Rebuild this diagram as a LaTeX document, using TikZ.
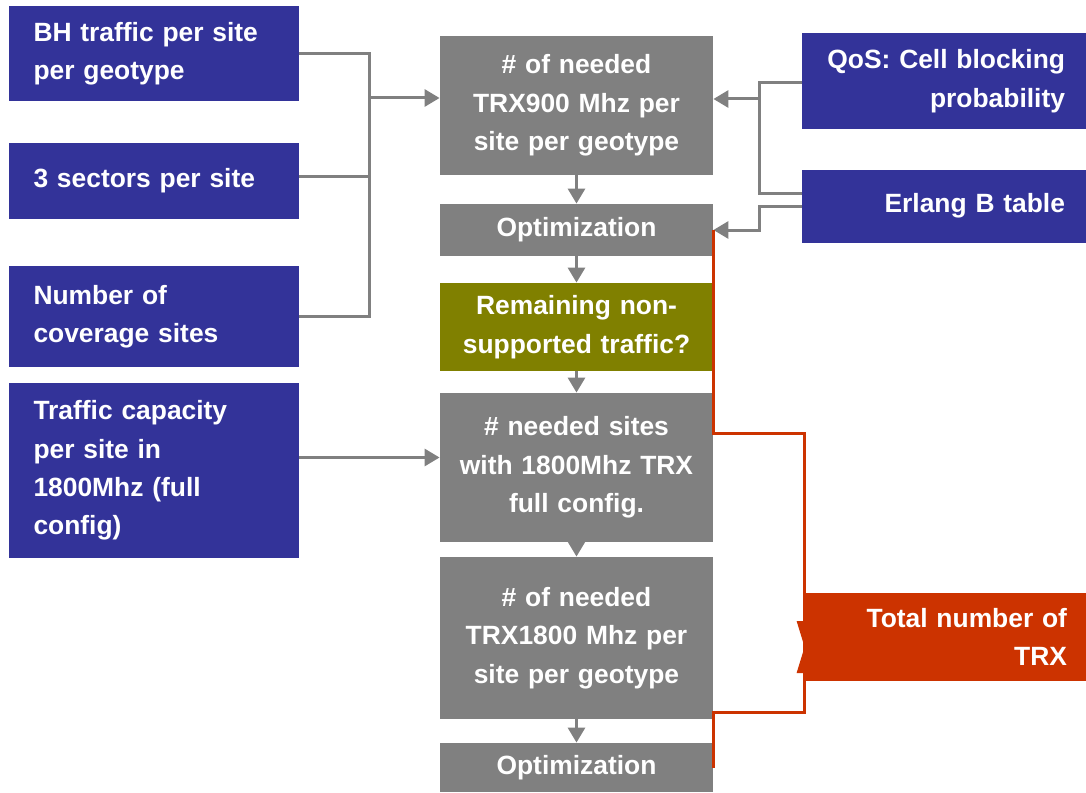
\documentclass[tikz,border=0pt]{standalone}
\usepackage{fontspec}
\setmainfont{Liberation Sans}
\usetikzlibrary{arrows.meta,calc}
\definecolor{boxblue}{RGB}{51,51,153}
\definecolor{boxgray}{RGB}{128,128,128}
\definecolor{boxolive}{RGB}{128,128,0}
\definecolor{boxred}{RGB}{204,51,0}

\begin{document}
\begin{tikzpicture}[x=0.5pt,y=-0.5pt]

\tikzset{myarrow/.style={-{Triangle[length=7.5pt,width=8.5pt]}, draw=boxgray, line width=1.5pt},
  myline/.style={draw=boxgray, line width=1.5pt},
  redline/.style={draw=boxred, line width=1.5pt},
  box/.style={fill=#1, text=white, inner ysep=0pt,
    font=\bfseries\fontsize{13.2}{19.2}\selectfont},
  inbox/.style={box=boxblue, text width=120pt, inner xsep=12.5pt, align=left, minimum height=#1},
  stepbox/.style={box=boxgray, text width=126.5pt, inner xsep=5pt, align=center, minimum height=#1},
  askbox/.style={box=boxolive, text width=126.5pt, inner xsep=5pt, align=center, minimum height=#1},
  rbox/.style={box=boxblue, text width=121pt, inner xsep=10.5pt, align=right, minimum height=#1},
  outbox/.style={box=boxred, text width=121.5pt, inner xsep=9.5pt, align=right, minimum height=44pt}}

    \useasboundingbox (0,0) rectangle (1086,792);

    % Left inputs
    \node[inbox=47.5pt] (bh) at (153.5,53.5) {BH traffic per site\\per geotype};
    \node[inbox=38pt] (sectors) at (153.5,181) {3 sectors per site};
    \node[inbox=50.5pt] (coverage) at (153.5,316.5) {Number of\\coverage sites};
    \node[inbox=87.5pt] (capacity) at (153.5,470.5) {Traffic capacity\\per site in\\1800Mhz (full\\config)};

    % Middle column
    \node[stepbox=69.5pt] (trxa) at (576.5,105.5) {\# of needed\\TRX900 Mhz per\\site per geotype};
    \node[stepbox=26pt] (optima) at (576.5,230) {Optimization};
    \node[askbox=44pt] (remain) at (576.5,327) {Remaining non-\\supported traffic?};
    \node[stepbox=74.5pt] (sites) at (576.5,467.5) {\# needed sites\\with 1800Mhz TRX\\full config.};
    \node[stepbox=81pt] (trxb) at (576.5,638) {\# of needed\\TRX1800 Mhz per\\site per geotype};
    \node[stepbox=24.5pt] (optimb) at (576.5,767.5) {Optimization};

    % Right inputs
    \node[rbox=48pt] (qos) at (944,81) {QoS: Cell blocking\\probability};
    \node[rbox=36.5pt] (erlang) at (944,206) {Erlang B table};

    % Left joins
    \coordinate (lj) at (369,98);
    \draw[myline] (bh.east) -| (lj);
    \draw[myline] (coverage.east) -| (lj);
    \draw[myline] ([yshift=2.5pt]sectors.east) -- ([yshift=2.5pt]sectors.east -| lj);
    \draw[myarrow] (lj) -- (lj -| trxa.west);
    \draw[myarrow] ([yshift=6.5pt]capacity.east) -- ([yshift=6.5pt]capacity.east -| sites.west);

    % Right joins
    \coordinate (rj) at (759,99);
    \coordinate (rb) at (759,193);
    \draw[myline] ([yshift=-1pt]qos.west) -| (rb) -- (rb -| erlang.west);
    \draw[myarrow] (rj) -- (rj -| trxa.east);
    \draw[myarrow] (erlang.west) -- ++(-42,0) |- (optima.east);

    % Steps
    \foreach \a/\b in {trxa/optima, optima/remain, remain/sites, sites/trxb, trxb/optimb}
      \draw[myarrow] (\a) -- (\b);

    % Bracket to total
    \coordinate (rt) at (804,433);
    \coordinate (rbt) at (804,712);
    \draw[redline] (optima.east) |- (rt) -- (rbt) -| (optimb.east);

    \node[outbox] (total) at (945.5,637) {Total number of\\TRX};
    \fill[boxred] ($(total.west)+(0,-16)$) -- ++(-8,0) -- ++(8,26) -- ++(-8,26) -- ++(8,0) -- cycle;

\end{tikzpicture}
\end{document}
